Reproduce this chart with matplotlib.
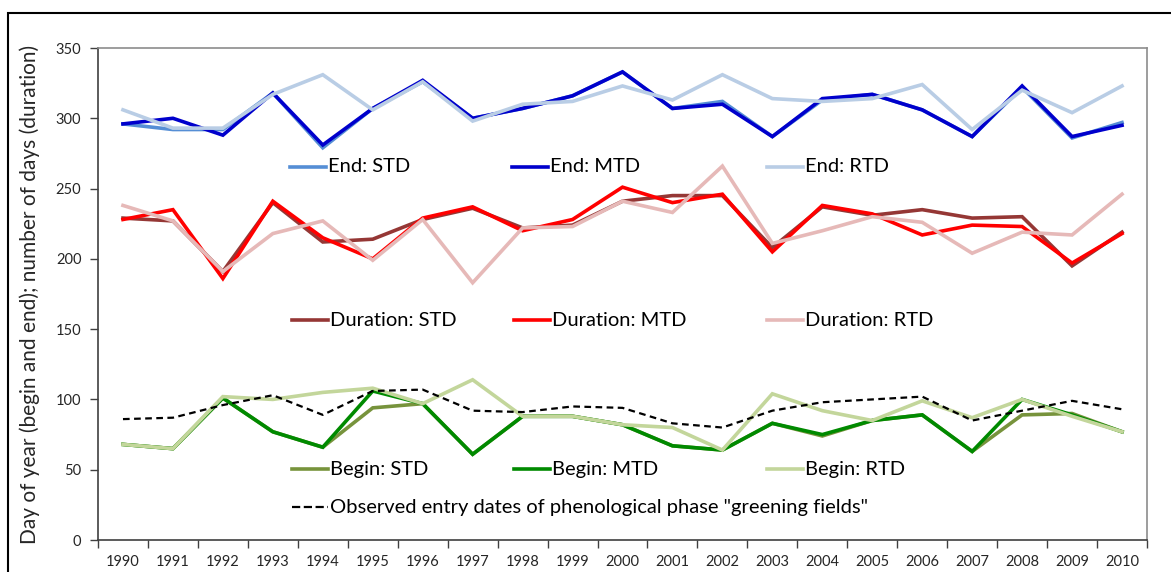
import matplotlib.pyplot as plt
from matplotlib.lines import Line2D
from matplotlib.patches import Rectangle

plt.rcParams['font.family'] = ['Lato', 'DejaVu Sans']

years = list(range(1990, 2011))

end_std = [296, 292, 292, 318, 279, 307, 326, 300, 307, 316, 333, 307, 312, 287, 313, 317, 306, 287, 322, 286, 297]
end_mtd = [296, 300, 288, 318, 281, 307, 327, 300, 307, 316, 333, 307, 310, 287, 314, 317, 306, 287, 323, 287, 295]
end_rtd = [306, 293, 293, 317, 331, 306, 326, 298, 310, 312, 323, 313, 331, 314, 312, 314, 324, 292, 320, 304, 323]

dur_std = [229, 227, 191, 240, 212, 214, 228, 236, 222, 224, 241, 245, 245, 208, 237, 231, 235, 229, 230, 195, 219]
dur_mtd = [228, 235, 186, 241, 215, 200, 229, 237, 220, 228, 251, 240, 246, 205, 238, 232, 217, 224, 223, 197, 218]
dur_rtd = [238, 227, 191, 218, 227, 199, 228, 183, 222, 223, 241, 233, 266, 211, 220, 230, 226, 204, 219, 217, 246]

beg_std = [68, 65, 101, 77, 66, 94, 97, 61, 88, 88, 82, 67, 64, 83, 74, 85, 89, 63, 89, 90, 77]
beg_mtd = [68, 65, 101, 77, 66, 106, 97, 61, 88, 88, 82, 67, 64, 83, 75, 85, 89, 63, 100, 89, 77]
beg_rtd = [68, 65, 102, 100, 105, 108, 97, 114, 88, 88, 82, 80, 64, 104, 92, 85, 99, 87, 100, 88, 77]

observed = [86, 87, 96, 103, 89, 106, 107, 92, 91, 95, 94, 83, 80, 92, 98, 100, 102, 85, 92, 99, 93]

W, H = 1171, 572
fig = plt.figure(figsize=(W / 100, H / 100), dpi=100)
ax = fig.add_axes([98 / W, 1 - 540 / H, (1147 - 98) / W, (540 - 48) / H])

lw = 2.6
series = [
    (end_std, '#558ED5', 'End: STD'),
    (end_mtd, '#0000CC', 'End: MTD'),
    (end_rtd, '#B9CDE5', 'End: RTD'),
    (dur_std, '#953735', 'Duration: STD'),
    (dur_mtd, '#FF0000', 'Duration: MTD'),
    (dur_rtd, '#E6B9B8', 'Duration: RTD'),
    (beg_std, '#77933C', 'Begin: STD'),
    (beg_mtd, '#008A00', 'Begin: MTD'),
    (beg_rtd, '#C3D69B', 'Begin: RTD'),
]
for vals, col, lab in series:
    ax.plot(years, vals, color=col, lw=lw, solid_joinstyle='miter', label=lab)
ax.plot(years, observed, color='black', lw=1.6, ls=(0, (3, 2)),
        label='Observed entry dates of phenological phase "greening fields"')

ax.set_xlim(1989.5, 2010.5)
ax.set_ylim(0, 350)
ax.set_yticks(range(0, 351, 50))
ax.set_xticks([y - 0.5 for y in years] + [2010.5])
ax.set_xticklabels([])
ax.set_xticks(years, minor=True)
ax.set_xticklabels([str(y) for y in years], minor=True)
ax.tick_params(axis='x', which='major', direction='out', length=6, width=1, color='#404040')
ax.tick_params(axis='x', which='minor', length=0, pad=11, labelsize=10.5, labelcolor='#262626')
ax.tick_params(axis='y', direction='out', length=6, width=1, color='#404040', labelsize=10.5,
               labelcolor='#262626', pad=6)
for s in ['left', 'bottom']:
    ax.spines[s].set_color('#404040')
    ax.spines[s].set_linewidth(1.2)
for s in ['top', 'right']:
    ax.spines[s].set_color('#8C8C8C')
    ax.spines[s].set_linewidth(1.2)
ax.set_ylabel('Day of year (begin and end); number of days (duration)', fontsize=15,
              color='#262626', labelpad=11)

# outer chart frame (left and top edges visible)
fig.add_artist(Rectangle((8 / W, -0.1), 1.2, 1.1 - 13 / H, transform=fig.transFigure,
                         fill=False, ec='black', lw=1.5))

# legend entries laid out like the original
lines = ax.get_lines()
def legend_item(line, x0, y):
    x1 = x0 + 36
    fig.add_artist(Line2D([x0 / W, x1 / W], [1 - y / H, 1 - y / H], transform=fig.transFigure,
                          color=line.get_color(), lw=line.get_linewidth(), ls=line.get_linestyle()))
    fig.text((x1 + 2) / W, 1 - y / H, line.get_label(), fontsize=14.5, va='center', ha='left',
             color='black')

for i, x0 in enumerate([290, 512, 767]):
    legend_item(lines[i], x0, 167)
for i, x0 in enumerate([292, 514, 767]):
    legend_item(lines[3 + i], x0, 320)
for i, x0 in enumerate([292, 514, 767]):
    legend_item(lines[6 + i], x0, 469)
legend_item(lines[9], 292, 507)

fig.savefig('out.png', dpi=100)
